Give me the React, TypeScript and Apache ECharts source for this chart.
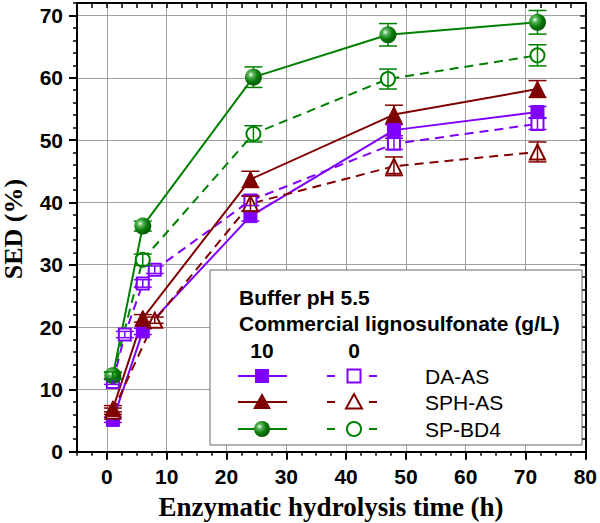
import React, { useEffect, useRef } from "react";
import * as echarts from "echarts";

const xMin = -5;
const xMax = 80;
const yMin = 0;
const yMax = 72;
const xLabels = [0, 10, 20, 30, 40, 50, 60, 70, 80];
const yLabels = [0, 10, 20, 30, 40, 50, 60, 70];
const xGrid = [0, 10, 20, 30, 40, 50, 60, 70];
const yGrid = [10, 20, 30, 40, 50, 60, 70];

// DA-AS
const daFilledX = [1, 6, 24, 48, 72];
const daFilledY = [5.1, 19.3, 37.8, 51.6, 54.5];
const daFilledErr = [0.4, 0.5, 0.8, 0.9, 0.9];
const daOpenX = [1, 3, 6, 8, 24, 48, 72];
const daOpenY = [11.2, 18.8, 27.0, 29.2, 40.3, 49.4, 52.6];
const daOpenErr = [0.4, 0.5, 0.6, 0.6, 0.8, 0.9, 0.9];
// SPH-AS
const sphFilledX = [1, 6, 24, 48, 72];
const sphFilledY = [6.9, 21.4, 43.7, 54.1, 58.2];
const sphFilledErr = [0.5, 0.6, 1.3, 1.5, 1.35];
const sphOpenX = [1, 8, 24, 48, 72];
const sphOpenY = [6.5, 21.1, 39.8, 45.8, 48.1];
const sphOpenErr = [0.5, 0.5, 1.2, 1.5, 1.6];
// SP-BD4
const spFilledX = [1, 6, 24.5, 47, 72];
const spFilledY = [12.2, 36.2, 60.1, 66.9, 68.9];
const spFilledErr = [0.5, 0.8, 1.65, 1.8, 1.9];
const spOpenX = [1, 6, 24.5, 47, 72];
const spOpenY = [12.2, 30.8, 51.0, 59.8, 63.6];
const spOpenErr = [0.6, 0.9, 1.3, 1.6, 1.7];

const legendTitle1 = "Buffer pH 5.5";
const legendTitle2 = "Commercial lignosulfonate (g/L)";
const legendCol1 = "10";
const legendCol2 = "0";
const legendNames = ["DA-AS", "SPH-AS", "SP-BD4"];

const PURPLE = "#8000ff";
const DRED = "#800000";
const GREEN = "#008000";

const sphere = (cx = 0.35, cy = 0.35) => ({
  type: "radial",
  x: cx,
  y: cy,
  r: 0.7,
  colorStops: [
    { offset: 0, color: "#ffffff" },
    { offset: 0.22, color: "#5cb85c" },
    { offset: 0.6, color: "#0a7a0a" },
    { offset: 1, color: "#005500" },
  ],
});

const pairs = (xs: number[], ys: number[]) => xs.map((x, i) => [x, ys[i]]);
const triples = (xs: number[], ys: number[], es: number[]) =>
  xs.map((x, i) => [x, ys[i], es[i]]);

function errSeries(xs: number[], ys: number[], es: number[], color: string, z: number) {
  return {
    type: "custom",
    z,
    silent: true,
    xAxisIndex: 0,
    yAxisIndex: 0,
    encode: { x: 0, y: 1 },
    data: triples(xs, ys, es),
    renderItem: (params: any, api: any) => {
      const x = api.value(0);
      const y = api.value(1);
      const e = api.value(2);
      const top = api.coord([x, y + e]);
      const bot = api.coord([x, y - e]);
      const hw = 9;
      const st = { stroke: color, lineWidth: 1.5 };
      return {
        type: "group",
        children: [
          { type: "line", shape: { x1: top[0], y1: top[1], x2: bot[0], y2: bot[1] }, style: st },
          { type: "line", shape: { x1: top[0] - hw, y1: top[1], x2: top[0] + hw, y2: top[1] }, style: st },
          { type: "line", shape: { x1: bot[0] - hw, y1: bot[1], x2: bot[0] + hw, y2: bot[1] }, style: st },
        ],
      };
    },
  };
}

function lineSeries(
  name: string,
  xs: number[],
  ys: number[],
  color: string,
  symbol: string,
  size: number,
  filled: boolean,
  fillColor?: any
) {
  return {
    name,
    type: "line",
    z: 2,
    xAxisIndex: 0,
    yAxisIndex: 0,
    data: pairs(xs, ys),
    symbol,
    symbolSize: size,
    showAllSymbol: true,
    lineStyle: { color, width: 2, type: filled ? "solid" : [9, 6] },
    itemStyle: filled
      ? { color: fillColor || color, borderColor: color, borderWidth: symbol === "circle" ? 0 : 1 }
      : { color: "#ffffff", borderColor: color, borderWidth: 2 },
    emphasis: { disabled: true },
  };
}

const FONT_SANS = "'Liberation Sans', Arial, sans-serif";
const FONT_SERIF = "'Liberation Serif', 'Times New Roman', serif";

export default function App() {
  const ref = useRef<HTMLDivElement>(null);
  useEffect(() => {
    if (!ref.current) return;
    const chart = echarts.init(ref.current, null, { renderer: "svg" });
    const axisCommon = { type: "value", min: xMin, max: xMax, splitLine: { show: false } };
    const yCommon = { type: "value", min: yMin, max: yMax, splitLine: { show: false } };

    const legendX = 210;
    const legendY = 270;
    const rowsY = [376, 402, 429];
    const c1 = 262;
    const c2 = 354;
    const colors = [PURPLE, DRED, GREEN];
    const legendEls: any[] = [
      {
        type: "rect",
        shape: { x: legendX, y: legendY, width: 372, height: 175 },
        style: { fill: "#ffffff", stroke: "#666666", lineWidth: 1 },
        z: 100,
      },
      {
        type: "text",
        x: 239,
        y: 297,
        style: { text: legendTitle1, fill: "#000", font: `bold 21px ${FONT_SANS}`, verticalAlign: "middle" },
        z: 101,
      },
      {
        type: "text",
        x: 239,
        y: 323,
        style: { text: legendTitle2, fill: "#000", font: `bold 21px ${FONT_SANS}`, verticalAlign: "middle" },
        z: 101,
      },
      {
        type: "text",
        x: c1,
        y: 350,
        style: { text: legendCol1, fill: "#000", font: `bold 21px ${FONT_SANS}`, align: "center", verticalAlign: "middle" },
        z: 101,
      },
      {
        type: "text",
        x: c2,
        y: 350,
        style: { text: legendCol2, fill: "#000", font: `bold 21px ${FONT_SANS}`, align: "center", verticalAlign: "middle" },
        z: 101,
      },
    ];
    rowsY.forEach((ry, i) => {
      const col = colors[i];
      legendEls.push(
        { type: "line", shape: { x1: 238, y1: ry, x2: 287, y2: ry }, style: { stroke: col, lineWidth: 2 }, z: 101 },
        { type: "line", shape: { x1: 327, y1: ry, x2: 335, y2: ry }, style: { stroke: col, lineWidth: 2 }, z: 101 },
        { type: "line", shape: { x1: 369, y1: ry, x2: 377, y2: ry }, style: { stroke: col, lineWidth: 2 }, z: 101 },
        {
          type: "text",
          x: 425,
          y: ry,
          style: { text: legendNames[i], fill: "#000", font: `21px ${FONT_SANS}`, verticalAlign: "middle" },
          z: 101,
        }
      );
      if (i === 0) {
        legendEls.push(
          { type: "rect", shape: { x: c1 - 7, y: ry - 7, width: 14, height: 14 }, style: { fill: col }, z: 102 },
          { type: "rect", shape: { x: c2 - 6.5, y: ry - 6.5, width: 13, height: 13 }, style: { fill: "#fff", stroke: col, lineWidth: 2 }, z: 102 }
        );
      } else if (i === 1) {
        legendEls.push(
          { type: "polygon", shape: { points: [[c1, ry - 9], [c1 + 9, ry + 7], [c1 - 9, ry + 7]] }, style: { fill: col }, z: 102 },
          { type: "polygon", shape: { points: [[c2, ry - 8], [c2 + 8, ry + 6.5], [c2 - 8, ry + 6.5]] }, style: { fill: "#fff", stroke: col, lineWidth: 2 }, z: 102 }
        );
      } else {
        legendEls.push(
          { type: "circle", shape: { cx: c1, cy: ry, r: 8 }, style: { fill: sphere() }, z: 102 },
          { type: "circle", shape: { cx: c2, cy: ry, r: 7 }, style: { fill: "#fff", stroke: col, lineWidth: 2 }, z: 102 }
        );
      }
    });

    const option: any = {
      animation: false,
      backgroundColor: "#ffffff",
      grid: { left: 77, right: 14.5, top: 3, bottom: 71.3, containLabel: false },
      xAxis: [
        {
          ...axisCommon,
          position: "bottom",
          axisLine: { show: true, onZero: false, lineStyle: { color: "#000", width: 2 } },
          axisTick: { show: true, customValues: xLabels, length: 8, lineStyle: { color: "#000", width: 2 } },
          axisLabel: {
            customValues: xLabels,
            margin: 14,
            color: "#000",
            fontSize: 21,
            fontWeight: "bold",
            fontFamily: FONT_SANS,
          },
        },
        {
          ...axisCommon,
          interval: 2.5,
          position: "bottom",
          axisLine: { show: false, onZero: false },
          axisTick: { show: true, length: 4, lineStyle: { color: "#000", width: 1.5 } },
          axisLabel: { show: false },
        },
        {
          ...axisCommon,
          interval: 2.5,
          position: "top",
          axisLine: { show: true, onZero: false, lineStyle: { color: "#000", width: 2 } },
          axisTick: { show: true, inside: true, length: 5, lineStyle: { color: "#000", width: 1.5 } },
          axisLabel: { show: false },
        },
      ],
      yAxis: [
        {
          ...yCommon,
          position: "left",
          axisLine: { show: true, onZero: false, lineStyle: { color: "#000", width: 2 } },
          axisTick: { show: true, customValues: yLabels, length: 8, lineStyle: { color: "#000", width: 2 } },
          axisLabel: {
            customValues: yLabels,
            margin: 14,
            color: "#000",
            fontSize: 21,
            fontWeight: "bold",
            fontFamily: FONT_SANS,
          },
        },
        {
          ...yCommon,
          interval: 2,
          position: "left",
          axisLine: { show: false, onZero: false },
          axisTick: { show: true, length: 4, lineStyle: { color: "#000", width: 1.5 } },
          axisLabel: { show: false },
        },
        {
          ...yCommon,
          interval: 2,
          position: "right",
          axisLine: { show: true, onZero: false, lineStyle: { color: "#000", width: 2 } },
          axisTick: { show: true, inside: true, length: 5, lineStyle: { color: "#000", width: 1.5 } },
          axisLabel: { show: false },
        },
      ],
      series: [
        {
          type: "line",
          name: "grid",
          xAxisIndex: 0,
          yAxisIndex: 0,
          data: [],
          z: 0,
          silent: true,
          markLine: {
            silent: true,
            z: 0,
            symbol: ["none", "none"],
            label: { show: false },
            lineStyle: { color: "#a0a0a0", width: 1, type: "solid" },
            emphasis: { disabled: true },
            data: [...xGrid.map((v) => ({ xAxis: v })), ...yGrid.map((v) => ({ yAxis: v }))],
          },
        },
        errSeries(daFilledX, daFilledY, daFilledErr, PURPLE, 1),
        errSeries(sphFilledX, sphFilledY, sphFilledErr, DRED, 1),
        errSeries(spFilledX, spFilledY, spFilledErr, GREEN, 1),
        lineSeries("DA-AS 10", daFilledX, daFilledY, PURPLE, "rect", 13, true),
        lineSeries("DA-AS 0", daOpenX, daOpenY, PURPLE, "rect", 12, false),
        lineSeries("SPH-AS 0", sphOpenX, sphOpenY, DRED, "triangle", 15, false),
        lineSeries("SPH-AS 10", sphFilledX, sphFilledY, DRED, "triangle", 16, true),
        lineSeries("SP-BD4 0", spOpenX, spOpenY, GREEN, "circle", 14, false),
        lineSeries("SP-BD4 10", spFilledX, spFilledY, GREEN, "circle", 17, true, sphere()),
        errSeries(daOpenX, daOpenY, daOpenErr, PURPLE, 3),
        errSeries(sphOpenX, sphOpenY, sphOpenErr, DRED, 3),
        errSeries(spOpenX, spOpenY, spOpenErr, GREEN, 3),
      ],
      graphic: [
        {
          type: "text",
          x: 13,
          y: 229,
          rotation: Math.PI / 2,
          style: {
            text: "SED (%)",
            fill: "#000",
            font: `bold 26px ${FONT_SERIF}`,
            align: "center",
            verticalAlign: "middle",
          },
          z: 50,
        },
        {
          type: "text",
          x: 331,
          y: 507,
          style: {
            text: "Enzymatic hydrolysis time (h)",
            fill: "#000",
            font: `bold 27px ${FONT_SERIF}`,
            align: "center",
            verticalAlign: "middle",
          },
          z: 50,
        },
        ...legendEls,
      ],
    };
    chart.setOption(option);
    return () => chart.dispose();
  }, []);
  return (
    <div
      ref={ref}
      style={{ position: "absolute", left: 0, top: 0, width: 600, height: 523, background: "#fff" }}
    />
  );
}
